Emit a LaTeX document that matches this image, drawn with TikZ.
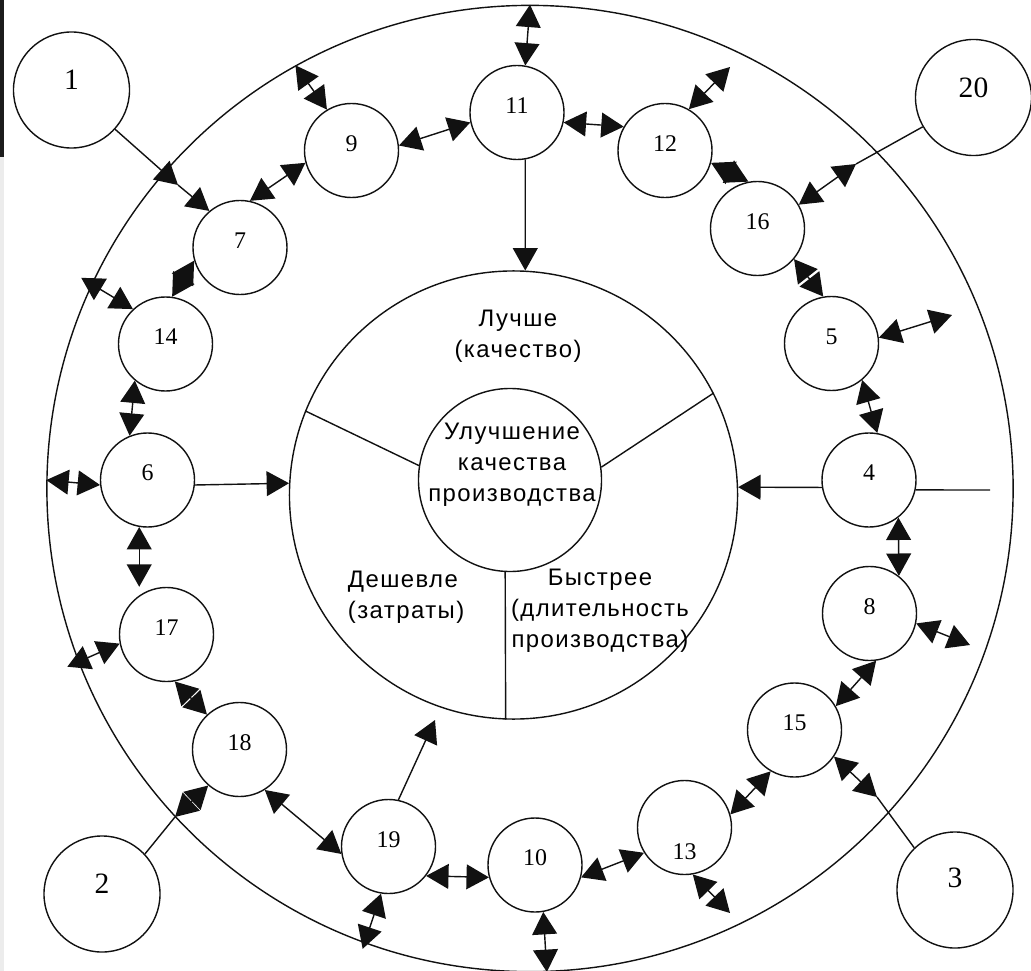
\documentclass[tikz,border=0pt]{standalone}
\usepackage{fontspec}
\setmainfont{Liberation Serif}
\newfontfamily\capfont[LetterSpace=6]{Liberation Sans}
\usetikzlibrary{arrows.meta}
\definecolor{InkBlack}{HTML}{111111}
\definecolor{BarDark}{HTML}{1C1C1C}
\definecolor{StripGray}{HTML}{ECECEC}
\tikzset{
  ring/.style={draw=InkBlack, circle, line width=1pt, inner sep=0pt},
  unit/.style={draw=InkBlack, circle, line width=1pt, inner sep=0pt,
               minimum size=2.35cm, text depth=3.5mm,
               font=\fontsize{17}{17}\selectfont},
  source/.style={unit, minimum size=2.9cm, text depth=5mm,
                 font=\fontsize{21}{21}\selectfont},
  caption/.style={font=\capfont\fontsize{17}{22}\selectfont, align=center},
  link/.style={line width=1pt, InkBlack},
  arrow/.style={link, -{Triangle[length=5.6mm,width=6.2mm]}},
  biarrow/.style={link, {Triangle[length=5.6mm,width=6.2mm]}-{Triangle[length=5.6mm,width=6.2mm]}},
}

\begin{document}
\begin{tikzpicture}[x=0.025cm, y=-0.025cm]
  \useasboundingbox (0,0) rectangle (1031,971);
  \fill[BarDark] (0,0) rectangle (4,157);
  \fill[StripGray] (0,157) rectangle (4,971);

  % rings
  \node[ring, minimum size=24.15cm] (outer) at (530,488.5) {};
  \node[ring, minimum size=11.2cm] (mid) at (513.5,495) {};
  \node[ring, minimum size=4.575cm] (core) at (510,480) {};
  \draw[link] (core.171) -- (mid.158);
  \draw[link] (core.8) -- (mid.27);
  \draw[link] (core.-93) -- (mid.-92.3);

  \node[caption] (coreText) at (512,465) {Улучшение\\качества\\производства};
  \node[caption] (better) at (518,336) {Лучше\\(качество)};
  \node[caption, align=left, anchor=west] (cheaper) at (343,597) {Дешевле\\(затраты)};
  \node[caption] (faster) at (600,611) {Быстрее\\(длительность\\производства)};

  % outside sources
  \node[source] (f1) at (71.5,90) {1};
  \node[source] (f2) at (102,894) {2};
  \node[source, text depth=6mm] (f3) at (955,890) {3};
  \node[source] (f20) at (973.5,97.5) {20};

  % factors on the ring
  \node[unit] (f4) at (869,480) {4};
  \node[unit] (f5) at (831.5,343.5) {5};
  \node[unit] (f6) at (147.5,480) {6};
  \node[unit] (f7) at (240,247.5) {7};
  \node[unit] (f8) at (869.5,613.5) {8};
  \node[unit] (f9) at (351.5,150.5) {9};
  \node[unit] (f10) at (535,865) {10};
  \node[unit] (f11) at (517,112.5) {11};
  \node[unit] (f12) at (665,150.5) {12};
  \node[unit, text height=1.6cm, text depth=0pt] (f13) at (684.5,827.5) {13};
  \node[unit] (f14) at (165.5,344) {14};
  \node[unit] (f15) at (794.5,730) {15};
  \node[unit] (f16) at (757.5,228.5) {16};
  \node[unit] (f17) at (166.5,634.5) {17};
  \node[unit] (f18) at (239.5,749.5) {18};
  \node[unit] (f19) at (388.5,846.5) {19};

  % loose ends
  \coordinate (c1) at (178,185);
  \coordinate (p2) at (175,817);
  \coordinate (p3) at (877,797);
  \coordinate (p4) at (990,490);
  \coordinate (p5) at (952,315);
  \coordinate (p8) at (970,645);
  \coordinate (p12) at (730,67);
  \coordinate (p13) at (730,913);
  \coordinate (p20) at (856,164);
  \coordinate (q19) at (435,720);

  % into the centre
  \draw[arrow] (f11.-80) -- (mid.87.2);
  \draw[arrow] (f6.-6) -- (mid.177.5);
  \draw[arrow] (f4.189) -- (mid.2);
  \draw[arrow] (f19.78) -- (q19);

  % to the outer ring
  \draw[biarrow] (outer.119.8) -- (f9.121);
  \draw[biarrow] (f11.80) -- (outer.90.6);
  \draw[biarrow] (f10.-80) -- (outer.-88.5);
  \draw[biarrow, shorten >=-1.5mm] (f19.-99) -- (outer.-110);
  \draw[biarrow, shorten >=-3mm] (f17.191) -- (outer.201);
  \draw[biarrow] (outer.179.5) -- (f6.186);
  \draw[biarrow, shorten <=-3mm] (outer.155) -- (f14.133);

  % between factors
  \draw[arrow] (f1.-42) -- (c1);
  \draw[arrow] (c1) -- (f7.130);
  \draw[biarrow] (f7.78) -- (f9.195);
  \draw[biarrow] (f9.6) -- (f11.192);
  \draw[biarrow] (f11.-12) -- (f12.150);
  \draw[biarrow] (f12.60) -- (p12);
  \draw[biarrow] (f12.-15) -- (f16.101);
  \draw[biarrow] (f16.30) -- (p20);
  \draw[link] (p20) -- (f20.210);
  \draw[biarrow] (f16.-40) -- (f5.100);
  \draw[biarrow] (f5.7) -- (p5);
  \draw[biarrow] (f5.-50) -- (f4.80);
  \draw[link] (f4.-12) -- (p4);
  \draw[biarrow] (f4.-52) -- (f8.52);
  \draw[biarrow] (f8.-12) -- (p8);
  \draw[biarrow] (f8.-82) -- (f15.30);
  \draw[biarrow] (f15.-34) -- (p3);
  \draw[link] (p3) -- (f3.134);
  \draw[biarrow] (f13.16) -- (f15.240);
  \draw[biarrow] (f13.-80) -- (p13);
  \draw[biarrow] (f10.-15) -- (f13.212);
  \draw[biarrow] (f19.-38) -- (f10.195);
  \draw[biarrow] (f18.-58) -- (f19.189);
  \draw[biarrow] (p2) -- (f18.229);
  \draw[link] (f2.43) -- (p2);
  \draw[biarrow] (f17.-80) -- (f18.133);
  \draw[biarrow] (f6.-100) -- (f6.-100 |- f17.north);
  \draw[biarrow] (f14.-130) -- (f6.112);
  \draw[biarrow] (f7.196) -- (f14.82);
\end{tikzpicture}
\end{document}
